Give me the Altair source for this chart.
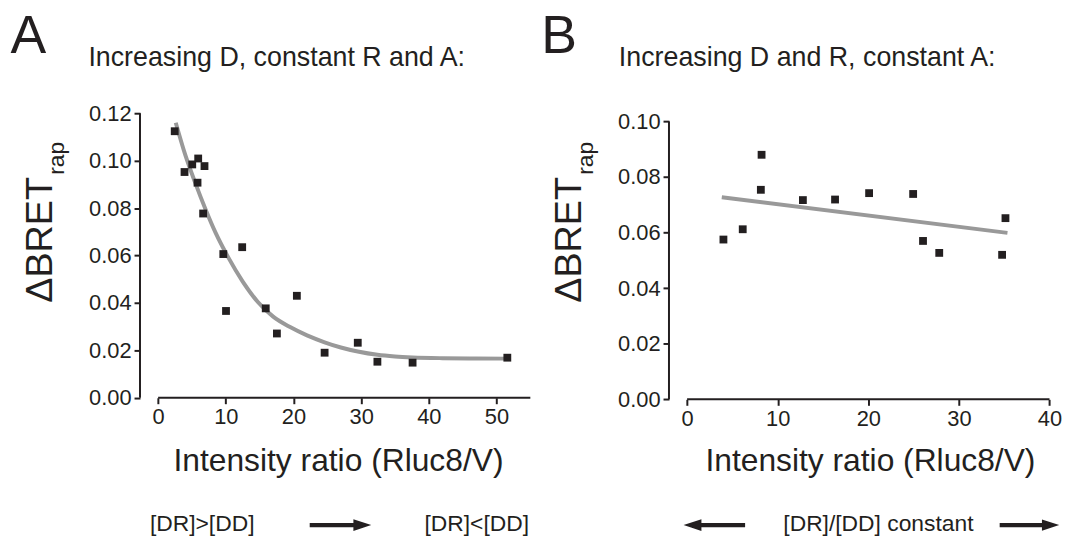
import altair as alt
import pandas as pd

INK = "#231f20"
FIT = "#999999"
FONT = "Liberation Sans"

# ---------------- Panel A data ----------------
a_x = [2.45, 3.9, 5.04, 5.92, 5.82, 6.85, 6.65, 9.63, 12.42, 10.03, 15.9, 20.5, 17.55, 24.6, 29.5, 32.4, 37.6, 51.6]
a_y = [0.1124, 0.0952, 0.0984, 0.1009, 0.0907, 0.0977, 0.0777, 0.0606, 0.0635, 0.0366,
       0.0377, 0.0430, 0.0271, 0.0190, 0.0232, 0.0152, 0.0148, 0.0169]
a_fit_x = [2.6, 4.0, 5.5, 7.0, 8.5, 10.3, 12.5, 14.7, 17.0, 19.5, 22.0, 24.6, 27.0, 29.5, 32.4, 35.0, 37.6, 42.0, 46.0, 51.6]
a_fit_y = [0.116, 0.1025, 0.0905, 0.0795, 0.0695, 0.0595, 0.0490, 0.0405, 0.0342, 0.0298, 0.0263, 0.0234,
           0.0212, 0.0195, 0.0181, 0.0174, 0.0170, 0.0167, 0.0166, 0.0165]
a_xticks = [0, 10, 20, 30, 40, 50]
a_yticks = [0.0, 0.02, 0.04, 0.06, 0.08, 0.10, 0.12]
a_xaxis_end = [55]
a_yaxis_top = [0.12]

# ---------------- Panel B data ----------------
b_x = [4.01, 6.14, 8.22, 8.14, 12.78, 16.33, 20.09, 24.95, 26.04, 27.83, 34.77, 35.14]
b_y = [0.0575, 0.0612, 0.0880, 0.0754, 0.0717, 0.0719, 0.0742, 0.0739, 0.0570, 0.0527, 0.0520, 0.0652]
b_fit_x = [3.83, 35.36]
b_fit_y = [0.0727, 0.0599]
b_xticks = [0, 10, 20, 30, 40]
b_yticks = [0.0, 0.02, 0.04, 0.06, 0.08, 0.10]
b_xaxis_end = [40]
b_yaxis_top = [0.10]

# ---------------- texts ----------------
letters = ["A", "B"]
subtitles = ["Increasing D, constant R and A:", "Increasing D and R, constant A:"]
ytitle_main = "\u0394BRET"
ytitle_sub = "rap"
xtitle = "Intensity ratio (Rluc8/V)"
a_bottom = ["[DR]>[DD]", "[DR]<[DD]"]
b_bottom = ["[DR]/[DD] constant"]

ARROW_R = "M-1,-0.07L0.42,-0.07L0.42,-0.19L1,0L0.42,0.19L0.42,0.07L-1,0.07Z"
ARROW_L = "M1,-0.07L-0.42,-0.07L-0.42,-0.19L-1,0L-0.42,0.19L-0.42,0.07L1,0.07Z"


def text_layer(label, px, py, size, align="left", baseline="alphabetic", angle=0):
    return alt.Chart(pd.DataFrame({"t": [label]})).mark_text(
        font=FONT, fontSize=size, color=INK, align=align, baseline=baseline, angle=angle
    ).encode(text="t:N", x=alt.value(px), y=alt.value(py))


def arrow_layer(px, py, length, path):
    return alt.Chart(pd.DataFrame({"a": [1]})).mark_point(
        shape=path, filled=True, color=INK, opacity=1, strokeWidth=0, size=length * length
    ).encode(x=alt.value(px), y=alt.value(py))


def panel(px, py, fx, fy, xdom, xticks, xend, ydom, yticks, ytop, w, h, extra):
    xs = alt.Scale(domain=xdom, nice=False, zero=False)
    ys = alt.Scale(domain=ydom, nice=False, zero=False)
    xax = alt.Axis(values=xticks, format="d", domain=False, labelFlush=False, title=None)
    yax = alt.Axis(values=yticks, format=".2f", domain=False, title=None)
    X = alt.X("x:Q", scale=xs, axis=xax)
    Y = alt.Y("y:Q", scale=ys, axis=yax)

    x_line = alt.Chart(pd.DataFrame({"x": [0], "x2": xend, "y": [0]})).mark_rule(
        color=INK, strokeWidth=2
    ).encode(x=X, x2="x2:Q", y=Y)
    y_line = alt.Chart(pd.DataFrame({"y": [0], "y2": ytop})).mark_rule(
        color=INK, strokeWidth=2
    ).encode(x=alt.value(0), y=Y, y2="y2:Q")
    fit = alt.Chart(pd.DataFrame({"x": fx, "y": fy})).mark_line(
        color=FIT, strokeWidth=4, interpolate="monotone"
    ).encode(x=X, y=Y)
    pts = alt.Chart(pd.DataFrame({"x": px, "y": py})).mark_square(
        size=62, color=INK, opacity=1
    ).encode(x=X, y=Y)
    return alt.layer(x_line, y_line, fit, pts, *extra).properties(width=w, height=h)


YT_X = -89      # baseline of rotated main y title
YS_X = -77      # baseline of rotated subscript
YT_Y = 191

extra_a = [
    text_layer(letters[0], -130.4, -60.3, 54),
    text_layer(subtitles[0], -52, -47.7, 27),
    text_layer(ytitle_main, YT_X, YT_Y, 38, angle=270),
    text_layer(ytitle_sub, YS_X, YT_Y - 129, 23, angle=270),
    text_layer(xtitle, 200, 361, 32, align="center"),
    text_layer(a_bottom[0], 10, 414, 23, baseline="middle"),
    text_layer(a_bottom[1], 392, 414, 23, align="right", baseline="middle"),
    arrow_layer(202, 415, 62, ARROW_R),
]
extra_b = [
    text_layer(letters[1], -128.8, -60.3, 54),
    text_layer(subtitles[1], -50.5, -47.7, 27),
    text_layer(ytitle_main, YT_X, YT_Y, 38, angle=270),
    text_layer(ytitle_sub, YS_X, YT_Y - 129, 23, angle=270),
    text_layer(xtitle, 203, 361, 32, align="center"),
    text_layer(b_bottom[0], 211, 414, 23, align="center", baseline="middle"),
    arrow_layer(45.7, 415, 62, ARROW_L),
    arrow_layer(363.2, 415, 60, ARROW_R),
]

pa = panel(a_x, a_y, a_fit_x, a_fit_y, [-2.68, 55], a_xticks, a_xaxis_end, [0, 0.12], a_yticks,
           a_yaxis_top, 393.3, 286.7, extra_a)
pb = panel(b_x, b_y, b_fit_x, b_fit_y, [-2.0, 40], b_xticks, b_xaxis_end, [0, 0.10296], b_yticks,
           b_yaxis_top, 383.4, 288.3, extra_b)

chart = alt.hconcat(pa, pb, spacing=139, bounds="flush").properties(
    padding={"left": 2, "top": 0, "right": 0, "bottom": 0}
).configure_view(stroke=None).configure_axis(
    domainColor=INK, domainWidth=2, tickColor=INK, tickWidth=2, tickSize=6,
    labelFont=FONT, labelFontSize=22, labelColor=INK, labelPadding=3, grid=False
)

chart.save("out.html", embed_options={"renderer": "svg", "actions": False})
